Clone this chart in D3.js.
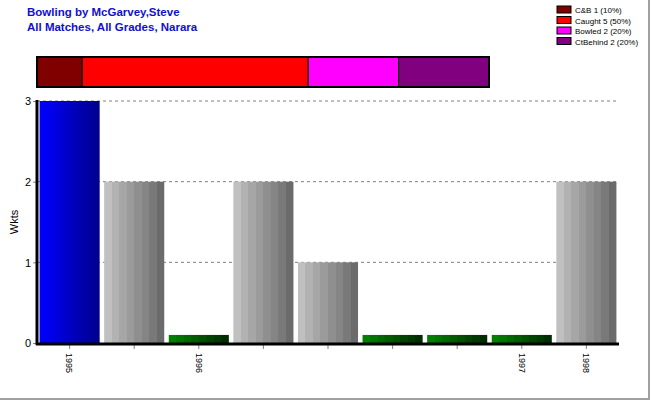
<!DOCTYPE html>
<html><head><meta charset="utf-8">
<script src="https://cdn.jsdelivr.net/npm/d3@7"></script>
<style>body{margin:0;background:#fff}svg{display:block;font-family:"Liberation Sans",Arial,sans-serif}</style>
</head><body><svg id="c" width="650" height="400"></svg>
<script>
const categories = ["1995","","1996","","","","","1997","1998"];
const wickets = [3,2,0,2,1,0,0,0,2];
const dismissalNames = ["C&B","Caught","Bowled","CtBehind"];
const dismissalCounts = [1,5,2,2];
const dismissalColors = ["#800000","#ff0000","#ff00ff","#800080"];
const yTicks = [0,1,2,3];

const svg = d3.select("#c");
const defs = svg.append("defs");
function stepped(id, cols){
  const g = defs.append("linearGradient").attr("id",id).attr("x1","0").attr("x2","1").attr("y1","0").attr("y2","0");
  const n = cols.length;
  cols.forEach((c,i)=>{
    g.append("stop").attr("offset",(i/n)).attr("stop-color",c);
    g.append("stop").attr("offset",((i+1)/n)).attr("stop-color",c);
  });
}
stepped("gGray", ["#c0c0c0","#b2b2b2","#a6a6a6","#9b9b9b","#8f8f8f","#858585","#797979","#6b6b6b"]);
stepped("gGreen", ["#008000","#007400","#006800","#005c00","#005000","#004400","#003a00","#002e00"]);
const gb = defs.append("linearGradient").attr("id","gBlue").attr("x1","0").attr("x2","1");
gb.append("stop").attr("offset",0).attr("stop-color","#0000ff");
gb.append("stop").attr("offset",1).attr("stop-color","#00008a");

// frame
svg.append("line").attr("x1",649).attr("x2",649).attr("y1",0).attr("y2",400).attr("stroke","#a0a0a0").attr("stroke-width",2);
svg.append("line").attr("x1",0).attr("x2",650).attr("y1",399).attr("y2",399).attr("stroke","#a0a0a0").attr("stroke-width",2);

// titles
svg.append("text").attr("x",27).attr("y",16).attr("fill","#1010d0").attr("font-weight","bold").attr("font-size",11.5).text("Bowling by McGarvey,Steve");
svg.append("text").attr("x",27).attr("y",31).attr("fill","#1010d0").attr("font-weight","bold").attr("font-size",11.5).text("All Matches, All Grades, Narara");

// legend
const total = d3.sum(dismissalCounts);
const lg = svg.append("g");
dismissalNames.forEach((n,i)=>{
  const y = 6 + i*10.5;
  lg.append("rect").attr("x",557).attr("y",y).attr("width",14).attr("height",7).attr("fill",dismissalColors[i]).attr("stroke","#000").attr("stroke-width",1);
  lg.append("text").attr("x",575).attr("y",y+7).attr("font-size",8).attr("fill","#000")
    .text(`${n} ${dismissalCounts[i]} (${Math.round(dismissalCounts[i]/total*100)}%)`);
});

// stacked dismissal bar
const sx = d3.scaleLinear().domain([0,total]).range([37,489]);
let acc = 0;
const stack = dismissalCounts.map((c,i)=>{const s={x0:acc,x1:acc+c,color:dismissalColors[i]};acc+=c;return s;});
svg.append("g").selectAll("rect").data(stack).join("rect")
  .attr("x",d=>sx(d.x0)).attr("y",57).attr("width",d=>sx(d.x1)-sx(d.x0)).attr("height",30)
  .attr("fill",d=>d.color).attr("stroke","#000").attr("stroke-width",1);
svg.append("rect").attr("x",37).attr("y",57).attr("width",452).attr("height",30).attr("fill","none").attr("stroke","#000").attr("stroke-width",2);

// main chart
const x = d3.scaleBand().domain(d3.range(categories.length)).range([37,619]).paddingInner(0.07).paddingOuter(0.04);
const y = d3.scaleLinear().domain([0,3]).range([343,101]);
const ZERO_BAR = 0.1;

// grid
svg.append("g").selectAll("line").data(yTicks.filter(t=>t>0)).join("line")
  .attr("x1",37).attr("x2",618).attr("y1",d=>y(d)).attr("y2",d=>y(d))
  .attr("stroke","#808080").attr("stroke-dasharray","3,3").attr("stroke-width",1);

const maxW = d3.max(wickets);
svg.append("g").selectAll("rect").data(wickets).join("rect")
  .attr("x",(d,i)=>x(i)).attr("width",x.bandwidth())
  .attr("y",d=>y(d===0?ZERO_BAR:d)).attr("height",d=>y(0)-y(d===0?ZERO_BAR:d))
  .attr("fill",d=>d===maxW?"url(#gBlue)":(d===0?"url(#gGreen)":"url(#gGray)"));

// axes
const yAxis = d3.axisLeft(y).tickValues(yTicks).tickSize(4).tickFormat(d3.format("d"));
const yg = svg.append("g").attr("transform","translate(37,0)").call(yAxis);
yg.select(".domain").remove();
yg.selectAll(".tick line").attr("stroke","#808080");
yg.selectAll(".tick text").attr("font-size",11).attr("fill","#000").attr("font-family","Liberation Sans, Arial").attr("dy","0.35em").attr("x",-6);
svg.append("line").attr("x1",37).attr("x2",37).attr("y1",100).attr("y2",345).attr("stroke","#000").attr("stroke-width",3);

const xAxis = d3.axisBottom(x).tickSize(5).tickFormat(i=>categories[i]);
const xg = svg.append("g").attr("transform","translate(0,344)").call(xAxis);
xg.select(".domain").remove();
xg.selectAll(".tick line").attr("stroke","#808080");
xg.selectAll(".tick text").attr("font-size",9).attr("fill","#000").attr("font-family","Liberation Sans, Arial")
  .attr("transform","rotate(90)").attr("x",9).attr("y",0).attr("dy","0.35em").style("text-anchor","start");
svg.append("line").attr("x1",36).attr("x2",619).attr("y1",344).attr("y2",344).attr("stroke","#000").attr("stroke-width",3);

svg.append("text").attr("transform","translate(18,222) rotate(-90)").attr("text-anchor","middle").attr("font-size",11).attr("fill","#000").text("Wkts");
</script></body></html>
